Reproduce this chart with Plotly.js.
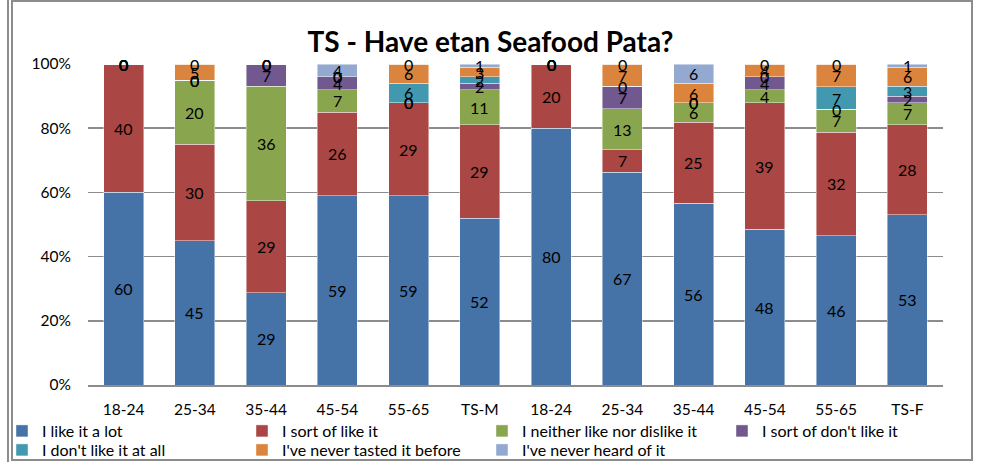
<!DOCTYPE html>
<html>
<head>
<meta charset="utf-8">
<script src="https://cdn.plot.ly/plotly-3.0.1.min.js"></script>
<style>
  html, body { margin: 0; padding: 0; background: #fff; }
  #wrap { position: relative; width: 981px; height: 462px; }
  #chart { position: absolute; left: 0; top: 0; width: 981px; height: 462px; }
  .frame { position: absolute; left: 11px; top: 0px; width: 958px; height: 457px;
           border: 2px solid #8c8c8c; pointer-events: none; }
  .edge { position: absolute; left: 7px; top: 0; width: 2px; height: 462px;
          background: #8c8c8c; pointer-events: none; }
</style>
</head>
<body>
<div id="wrap">
  <div id="chart"></div>
  <div class="edge"></div>
  <div class="frame"></div>
</div>
<script>
// Categories (male groups then female groups)
const categories = ["18-24","25-34","35-44","45-54","55-65","TS-M","18-24","25-34","35-44","45-54","55-65","TS-F"];

// Series values (percent, as labelled)
const likeALot      = [60, 45, 29, 59, 59, 52, 80, 67, 56, 48, 46, 53];
const sortOfLike    = [40, 30, 29, 26, 29, 29, 20,  7, 25, 39, 32, 28];
const neither       = [ 0, 20, 36,  7,  0, 11,  0, 13,  6,  4,  7,  7];
const sortOfDont    = [ 0,  0,  7,  4,  0,  2,  0,  7,  0,  4,  0,  2];
const dontLike      = [ 0,  0,  0,  0,  6,  2,  0,  0,  0,  0,  7,  3];
const neverTasted   = [ 0,  5,  0,  0,  6,  3,  0,  7,  6,  4,  7,  6];
const neverHeard    = [ 0,  0,  0,  4,  0,  1,  0,  0,  6,  0,  0,  1];

const seriesNames = ["I like it a lot","I sort of like it","I neither like nor dislike it","I sort of don't like it","I don't like it at all","I've never tasted it before","I've never heard of it"];
const seriesData  = [likeALot, sortOfLike, neither, sortOfDont, dontLike, neverTasted, neverHeard];
const colors = ["#4572A7","#AA4643","#89A54E","#71588F","#4198AF","#DB843D","#93A9CF"];

const xIdx = categories.map((c, i) => i);
const FONT = "Lato, Liberation Sans, Arial, sans-serif";

const legendId = s => (s === 0 ? "legend" : "legend" + (s + 1));

const traces = seriesData.map((vals, s) => ({
  type: "bar",
  name: seriesNames[s],
  x: xIdx,
  y: vals,
  legend: legendId(s),
  marker: { color: colors[s], line: { color: "rgba(255,255,255,0.55)", width: 0.8 } },
  hoverinfo: "name+y"
}));

// Data labels at segment centres (percent-normalised like a 100% stacked chart)
const annotations = [];
xIdx.forEach(i => {
  const total = seriesData.reduce((a, arr) => a + arr[i], 0);
  let cum = 0;
  seriesData.forEach((arr, s) => {
    const v = arr[i];
    const yc = (cum + v / 2) / total * 100;
    cum += v;
    annotations.push({
      x: i, y: yc, xref: "x", yref: "y",
      text: String(v), showarrow: false,
      font: { family: FONT, size: 16, color: "#000" },
      xanchor: "center", yanchor: "middle"
    });
  });
});

const layout = {
  width: 981, height: 462,
  margin: { l: 88, r: 38, t: 64, b: 77, autoexpand: false },
  paper_bgcolor: "#fff", plot_bgcolor: "#fff",
  barmode: "stack", barnorm: "percent", bargap: 0.44,
  font: { family: FONT, size: 15, color: "#000" },
  title: {
    text: "<b>TS - Have etan Seafood Pata?</b>",
    font: { family: FONT, size: 28, color: "#000" },
    x: 0.5, xref: "container", xanchor: "center",
    y: 1 - 42 / 462, yref: "container", yanchor: "middle"
  },
  xaxis: {
    tickmode: "array", tickvals: xIdx, ticktext: categories,
    range: [-0.5, 11.5], showgrid: false, zeroline: false,
    showline: true, linecolor: "#8c8c8c", linewidth: 1.5,
    ticks: "", ticklabelstandoff: 10, automargin: false,
    tickfont: { family: FONT, size: 15.5, color: "#000" }
  },
  yaxis: {
    range: [0, 100], dtick: 20, ticksuffix: "%",
    showgrid: true, gridcolor: "#8c8c8c", gridwidth: 1.5,
    zeroline: false, showline: false, ticks: "", ticklabelstandoff: 16, automargin: false,
    tickfont: { family: FONT, size: 15.5, color: "#000" }
  },
  showlegend: true,
  annotations: annotations
};

// One small legend per series, laid out as 4 columns x 2 rows
seriesNames.forEach((n, s) => {
  const col = s % 4, row = Math.floor(s / 4);
  layout[legendId(s)] = {
    orientation: "v",
    x: (col * 240 + 2) / 981, xref: "container", xanchor: "left",
    y: 1 - (431 + row * 19) / 462, yref: "container", yanchor: "middle",
    itemwidth: 30,
    font: { family: FONT, size: 16, color: "#000" },
    bgcolor: "rgba(0,0,0,0)", borderwidth: 0
  };
});

Plotly.newPlot("chart", traces, layout, { displayModeBar: false, staticPlot: true });
</script>
</body>
</html>
